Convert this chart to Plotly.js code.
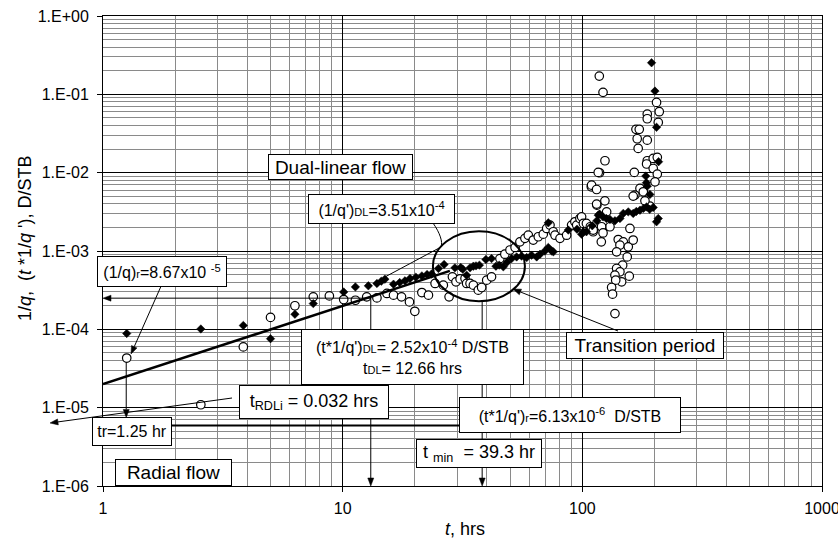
<!DOCTYPE html>
<html><head><meta charset="utf-8">
<script src="https://cdn.plot.ly/plotly-3.0.1.min.js"></script>
<style>html,body{margin:0;padding:0;background:#fff}#chart{width:838px;height:540px}</style>
</head><body><div id="chart"></div>
<script>
// ---- data: 1/q (open circles) and t*1/q' (filled diamonds) ----
const circleT = [1.256, 2.56, 3.85, 5.0, 6.32, 7.54, 8.8, 10.1, 11.3, 12.6,
  13.9, 15.3, 16.3, 17.6, 19.0, 20.0, 21.4, 22.8, 24.3, 26.3,
  27.8, 28.7, 29.7, 30.9, 32.4, 32.9, 34.0, 35.1, 36.8, 38.0,
  39.9, 41.8, 45.3, 47.5, 49.9, 52.4, 54.9, 57.6, 59.5, 62.4,
  65.5, 68.7, 71.0, 73.3, 75.6, 76.9, 80.7, 86.0, 90.2, 93.1,
  94.7, 97.7, 99.3, 101, 104, 108, 109, 111, 111, 120,
  122, 115, 109, 118, 117.7, 122, 124.3, 116.5, 109.3, 114.7,
  114.7, 124.2, 126.3, 130.4, 120.3, 122, 141.2, 148.2, 143.5, 155.5,
  163, 158, 139, 153.9, 147.3, 139, 143.5, 157, 136.8, 145.9,
  137.8, 132.5, 133.7, 136.8, 204, 209.4, 186.6, 186.6, 207.4, 167.4,
  172.8, 169.4, 186.6, 171, 164.7, 186.6, 197.6, 205.5, 185.4, 197.6,
  205.5, 201, 174, 179.6, 165.7, 191.4, 182.5, 163];
const circleV = [4.3e-5, 1.09e-5, 5.97e-5, 1.42e-4, 2.0e-4, 2.6e-4, 2.67e-4, 2.4e-4, 2.35e-4, 2.6e-4,
  2.52e-4, 2.87e-4, 2.73e-4, 2.6e-4, 2.24e-4, 1.70e-4, 2.95e-4, 2.73e-4, 3.85e-4, 3.66e-4,
  2.6e-4, 4.68e-4, 4.04e-4, 4.4e-4, 4.46e-4, 3.85e-4, 3.85e-4, 3.66e-4, 3.16e-4, 3.42e-4,
  4.24e-4, 4.68e-4, 8.0e-4, 9.1e-4, 1.03e-3, 1.11e-3, 1.31e-3, 1.45e-3, 1.59e-3, 1.38e-3,
  1.52e-3, 1.64e-3, 1.94e-3, 2.14e-3, 1.76e-3, 1.59e-3, 1.45e-3, 1.59e-3, 2.14e-3, 2.36e-3,
  2.14e-3, 2.6e-3, 2.73e-3, 2.25e-3, 2.25e-3, 2.04e-3, 1.94e-3, 1.76e-3, 1.85e-3, 1.31e-3,
  1.94e-3, 3.85e-3, 6.6e-3, 9.97e-3, 0.171, 0.106, 0.0142, 0.01007, 0.00693, 0.0061,
  0.00397, 0.00437, 0.00316, 0.00204, 0.00204, 0.0017, 0.0014, 0.00131, 0.00119, 0.00113,
  0.00138, 0.00194, 0.000976, 0.000841, 0.000659, 0.000598, 0.000542, 0.000477, 0.000491, 0.000404,
  0.000424, 0.000342, 0.000281, 0.000159, 0.0789, 0.06, 0.056, 0.0488, 0.0438, 0.0357,
  0.0357, 0.0271, 0.026, 0.0204, 0.01007, 0.0142, 0.0152, 0.0157, 0.0129, 0.0113,
  0.0096, 0.00764, 0.00629, 0.0057, 0.00517, 0.00374, 0.00437, 0.00502];

const diamondT = [1.256, 2.56, 3.85, 5.0, 6.32, 7.54, 10.1, 11.3, 12.8, 13.9,
  14.5, 15.0, 16.3, 17.3, 18.2, 19.1, 20.2, 21.4, 22.5, 23.5,
  25.1, 26.5, 29.4, 31.1, 31.7, 32.9, 34.0, 35.1, 36.0, 37.2,
  39.6, 41.8, 43.6, 45.0, 46.8, 48.5, 50.7, 53.2, 55.8, 58.6,
  61.4, 64.5, 66.6, 69.8, 72.1, 74.5, 75.7, 72.1, 87.4, 95.0,
  99.3, 101, 104, 110, 115, 116.5, 118, 122, 126, 130.4,
  136.8, 143.5, 148.2, 155.5, 163, 168, 174, 180, 185.4, 191,
  197.6, 204, 207.4, 184, 185, 186.6, 191.4, 194.5, 200.9, 204,
  208];
const diamondV = [8.85e-5, 1.01e-4, 1.12e-4, 7.6e-5, 1.56e-4, 2.13e-4, 3.0e-4, 3.48e-4, 3.59e-4, 3.85e-4,
  4.12e-4, 4.37e-4, 3.77e-4, 3.96e-4, 4.16e-4, 4.46e-4, 4.63e-4, 4.81e-4, 5.01e-4, 5.1e-4,
  5.98e-4, 6.73e-4, 6.09e-4, 6.16e-4, 5.86e-4, 4.91e-4, 6.09e-4, 6.4e-4, 6.46e-4, 6.6e-4,
  7.8e-4, 8.0e-4, 6.4e-4, 6.6e-4, 6.28e-4, 7.2e-4, 8.0e-4, 8.4e-4, 8.6e-4, 8.26e-4,
  8.85e-4, 8.4e-4, 9.1e-4, 1.0e-3, 1.11e-3, 1.0e-3, 9.76e-4, 2.29e-3, 1.85e-3, 1.9e-3,
  1.64e-3, 1.76e-3, 1.76e-3, 2.1e-3, 2.43e-3, 2.87e-3, 2.96e-3, 2.73e-3, 2.6e-3, 2.53e-3,
  2.43e-3, 2.6e-3, 3.02e-3, 3.16e-3, 3.02e-3, 3.2e-3, 3.32e-3, 3.5e-3, 3.66e-3, 3.4e-3,
  3.6e-3, 2.36e-3, 2.6e-3, 9.04e-3, 7.43e-3, 6.73e-3, 5.27e-3, 0.253, 0.110, 0.0379,
  0.0138];

// unit-slope dual-linear straight line (end points)
const unitSlopeT = [1, 28];
const unitSlopeV = [2.0e-5, 5.57e-4];

// guide levels / times
const guideDL = {t: 13.1, v: 2.5e-4};
const guideR = {tr: 1.25, trFrom: 3.8e-5, trTo: 7.5e-6, level: 5.9e-6, levelEnd: 40};
const guideMin = {t: 38.2, from: 2.29e-4};
const transitionEllipse = {t0: 23.8, t1: 57.6, v0: 2.29e-4, v1: 1.79e-3};

// axes ticks
const xTickVals = [1, 10, 100, 1000];
const xTickText = ['1', '10', '100', '1000'];
const yTickVals = [1e-6, 1e-5, 1e-4, 1e-3, 1e-2, 1e-1, 1];
const yTickText = ['1.E-06', '1.E-05', '1.E-04', '1.E-03', '1.E-02', '1.E-01', '1.E+00'];
const minorMult = [2, 3, 4, 5, 6, 7, 8, 9];
const xDecades = [1, 10, 100];
const yDecades = [1e-6, 1e-5, 1e-4, 1e-3, 1e-2, 1e-1];
const xMinor = [], yMinor = [];
xDecades.forEach(d => minorMult.forEach(m => xMinor.push(m * d)));
yDecades.forEach(d => minorMult.forEach(m => yMinor.push(m * d)));

const FONT = 'Liberation Sans, Arial, Helvetica, sans-serif';
// plot-area geometry (for placing text boxes and arrowheads)
const L = 103, T = 16, W = 719, H = 470;
const XR = [0, 3], YR = [-6, 0];
function P(px, py) { return {x: (px - L) / W, y: (T + H - py) / H}; }
function dx(t) { return L + W * (Math.log10(t) - XR[0]) / (XR[1] - XR[0]); }
function dy(v) { return T + H * (YR[1] - Math.log10(v)) / (YR[1] - YR[0]); }

function box(text, left, top, w, h, size) {
  const p = P(left, top);
  return {xref: 'paper', yref: 'paper', x: p.x, y: p.y, xanchor: 'left', yanchor: 'top',
    text: text, showarrow: false, font: {family: FONT, size: size, color: '#000'},
    bgcolor: '#fff', bordercolor: '#000', borderwidth: 1, borderpad: 0,
    width: w - 2, height: h - 2, align: 'center', valign: 'middle'};
}

// arrow = line + filled triangular head, both as shapes (pixel positions -> paper)
function arrowPx(tipX, tipY, tailX, tailY, w) {
  const len = Math.hypot(tipX - tailX, tipY - tailY);
  const ux = (tipX - tailX) / len, uy = (tipY - tailY) / len;
  const hl = 8, hw = 3;
  const bx = tipX - ux * hl, by = tipY - uy * hl;
  const a = P(tipX, tipY), b = P(bx + (-uy) * hw, by + ux * hw), c = P(bx - (-uy) * hw, by - ux * hw);
  const s = P(tailX, tailY), e = P(bx, by);
  return [
    {type: 'line', xref: 'paper', yref: 'paper', x0: s.x, y0: s.y, x1: e.x, y1: e.y,
     line: {color: '#000', width: w || 1}, layer: 'above'},
    {type: 'path', xref: 'paper', yref: 'paper',
     path: 'M' + a.x + ',' + a.y + ' L' + b.x + ',' + b.y + ' L' + c.x + ',' + c.y + ' Z',
     fillcolor: '#000', line: {color: '#000', width: 0.5}, layer: 'above'}
  ];
}
function arrowData(tipT, tipV, tailT, tailV, w) {
  return arrowPx(dx(tipT), dy(tipV), dx(tailT), dy(tailV), w);
}

const traces = [
  {x: circleT, y: circleV, type: 'scatter', mode: 'markers', name: '1/q',
   marker: {symbol: 'circle', size: 8.5, color: '#fff', line: {color: '#000', width: 1.2}}},
  {x: unitSlopeT, y: unitSlopeV, type: 'scatter', mode: 'lines', name: 'unit slope',
   line: {color: '#000', width: 2.5}},
  {x: diamondT, y: diamondV, type: 'scatter', mode: 'markers', name: "t*1/q'",
   marker: {symbol: 'diamond', size: 6.5, color: '#000', line: {color: '#000', width: 0.5}}}
];

const sm = s => "<span style='font-size:11px'>" + s + "</span>";
const annotations = [
  box('Dual-linear flow', 268, 154, 145, 26, 19),
  box("(1/q')" + sm('DL') + '=3.51x10<sup>-4</sup>', 308, 194, 147, 30, 16),
  box('(1/q)' + sm('r') + '=8.67x10 <sup>-5</sup>', 97, 256, 130, 31, 16),
  box("(t*1/q')" + sm('DL') + '= 2.52x10<sup>-4</sup> D/STB<br>t' + sm('DL') + '= 12.66 hrs', 301, 329, 223, 56, 16),
  box('t<sub>RDLi</sub> = 0.032 hrs', 239, 385, 150, 34, 18),
  box('Transition period', 566, 332, 158, 27, 19),
  box("(t*1/q')" + sm('r') + '=6.13x10<sup>-6</sup>&nbsp; D/STB', 459, 397, 222, 36, 16),
  box('t <sub>min</sub>&nbsp; = 39.3 hr', 416, 439, 126, 29, 18),
  box('tr=1.25 hr', 92, 417, 80, 29, 16),
  box('Radial flow', 115, 459, 117, 27, 19),
  // axis titles
  {xref: 'paper', yref: 'paper', x: (465 - L) / W, y: (T + H - 529) / H, xanchor: 'center', yanchor: 'middle',
   text: '<i>t</i>, hrs', showarrow: false, font: {family: FONT, size: 18, color: '#000'}},
  {xref: 'paper', yref: 'paper', x: (25 - L) / W, y: (T + H - 238) / H, xanchor: 'center', yanchor: 'middle',
   textangle: -90, text: "1/<i>q</i>,&nbsp;&nbsp;(<i>t</i> *1/<i>q</i> '), D/STB", showarrow: false,
   font: {family: FONT, size: 18, color: '#000'}}
];

const pth = (function () {
  const a = P(433, 223), b = P(440, 233), c = P(443, 242), d = P(441, 247), e = P(383, 278);
  return 'M' + a.x + ',' + a.y + ' C' + b.x + ',' + b.y + ' ' + c.x + ',' + c.y + ' ' + d.x + ',' + d.y + ' L' + e.x + ',' + e.y;
})();

const shapes = [
  {type: 'circle', xref: 'x', yref: 'y', x0: transitionEllipse.t0, x1: transitionEllipse.t1,
   y0: transitionEllipse.v0, y1: transitionEllipse.v1, line: {color: '#000', width: 2}, layer: 'above'},
  {type: 'line', xref: 'x', yref: 'y', x0: 1, x1: guideR.levelEnd, y0: guideR.level, y1: guideR.level,
   line: {color: '#000', width: 2}, layer: 'above'},
  {type: 'path', xref: 'paper', yref: 'paper', path: pth, line: {color: '#000', width: 1}, layer: 'above'}
].concat(
  // guide arrows (data positions)
  arrowData(1, guideDL.v, guideDL.t, guideDL.v, 1),
  arrowData(guideDL.t, 1e-6, guideDL.t, guideDL.v, 1),
  arrowData(guideMin.t, 1e-6, guideMin.t, guideMin.from, 1),
  arrowData(guideR.tr, guideR.trTo, guideR.tr, guideR.trFrom, 1),
  // leader arrows from the text boxes
  arrowPx(131, 354, 162, 284, 1),
  arrowPx(513, 289, 618, 331, 1),
  arrowPx(50, 423, 232, 398, 1)
);

const axisCommon = {
  type: 'log', tickmode: 'array', ticks: 'outside', ticklen: 5, tickwidth: 1, tickcolor: '#000',
  showgrid: true, gridcolor: '#000', gridwidth: 1, showline: true, linecolor: '#000', linewidth: 1,
  mirror: true, zeroline: false, ticklabeloverflow: 'allow',
  tickfont: {family: FONT, size: 16, color: '#000'}
};

const layout = {
  width: 838, height: 540,
  margin: {l: L, r: 838 - L - W, t: T, b: 540 - T - H},
  paper_bgcolor: '#fff', plot_bgcolor: '#fff', showlegend: false,
  font: {family: FONT, size: 15, color: '#000'},
  xaxis: Object.assign({}, axisCommon, {range: XR, tickvals: xTickVals, ticktext: xTickText,
    ticklabelstandoff: 3,
    minor: {tickmode: 'array', tickvals: xMinor, showgrid: true, gridcolor: '#8a8a8a', gridwidth: 1, ticks: ''}}),
  yaxis: Object.assign({}, axisCommon, {range: YR, tickvals: yTickVals, ticktext: yTickText,
    ticklabelstandoff: 5,
    minor: {tickmode: 'array', tickvals: yMinor, showgrid: true, gridcolor: '#8a8a8a', gridwidth: 1, ticks: ''}}),
  shapes: shapes,
  annotations: annotations
};

Plotly.newPlot('chart', traces, layout, {staticPlot: true, displayModeBar: false});
</script>
</body></html>
